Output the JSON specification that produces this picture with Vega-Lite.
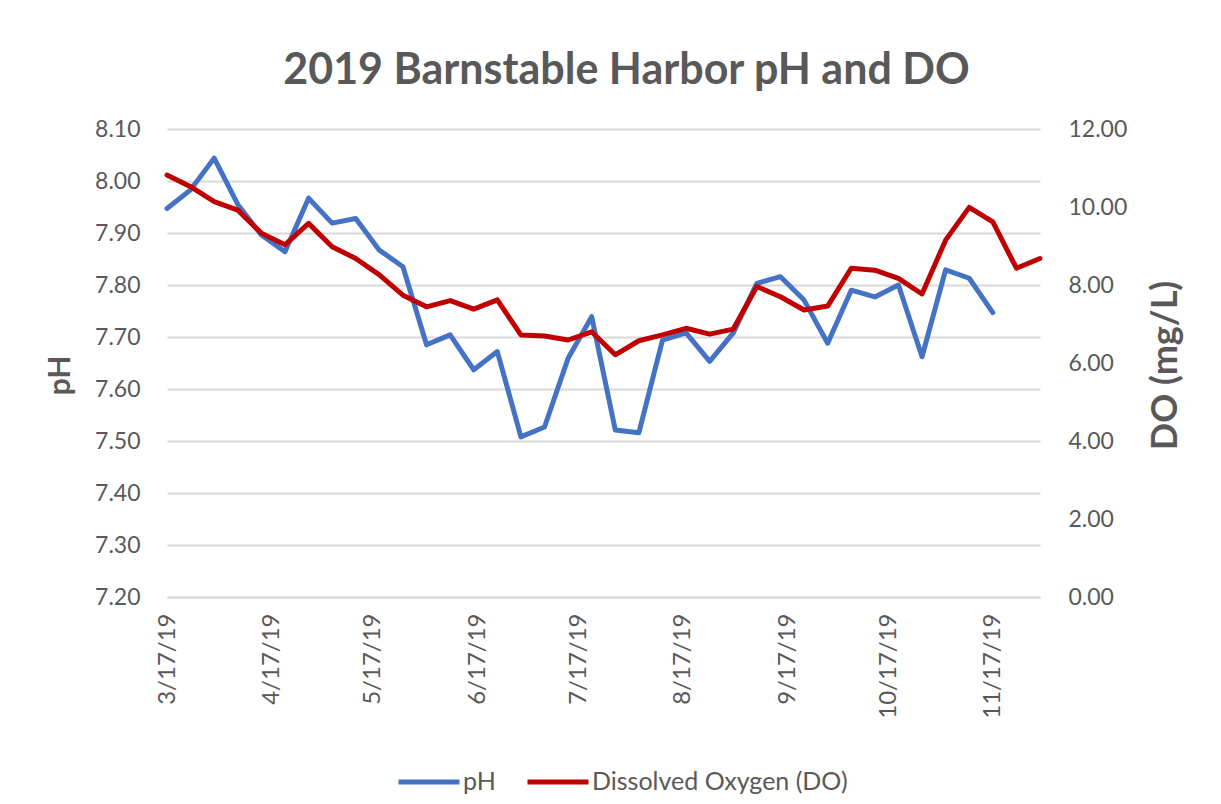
{
  "$schema": "https://vega.github.io/schema/vega-lite/v6.json",
  "width": 873,
  "height": 468,
  "autosize": {"type": "none"},
  "padding": {"left": 167, "top": 129, "right": 181, "bottom": 207},
  "background": "white",
  "config": {"font": "Lato", "view": {"stroke": null}},
  "title": {"text": "2019 Barnstable Harbor pH and DO", "fontSize": 43, "fontWeight": "bold", "color": "#595959", "font": "Lato", "anchor": "middle", "dx": 23, "offset": -9, "baseline": "alphabetic"},
  "data": {"values": [
    {"date": "2019/03/17", "pH": 7.947, "DO": 10.82},
    {"date": "2019/03/24", "pH": 7.983, "DO": 10.52},
    {"date": "2019/03/31", "pH": 8.044, "DO": 10.14},
    {"date": "2019/04/07", "pH": 7.955, "DO": 9.92},
    {"date": "2019/04/14", "pH": 7.896, "DO": 9.33},
    {"date": "2019/04/21", "pH": 7.864, "DO": 9.03},
    {"date": "2019/04/28", "pH": 7.967, "DO": 9.58},
    {"date": "2019/05/05", "pH": 7.919, "DO": 8.98},
    {"date": "2019/05/12", "pH": 7.928, "DO": 8.68},
    {"date": "2019/05/19", "pH": 7.867, "DO": 8.26},
    {"date": "2019/05/26", "pH": 7.835, "DO": 7.74},
    {"date": "2019/06/02", "pH": 7.685, "DO": 7.44},
    {"date": "2019/06/09", "pH": 7.704, "DO": 7.60},
    {"date": "2019/06/16", "pH": 7.637, "DO": 7.38},
    {"date": "2019/06/23", "pH": 7.672, "DO": 7.62},
    {"date": "2019/06/30", "pH": 7.508, "DO": 6.72},
    {"date": "2019/07/07", "pH": 7.527, "DO": 6.69},
    {"date": "2019/07/14", "pH": 7.659, "DO": 6.59},
    {"date": "2019/07/21", "pH": 7.739, "DO": 6.80},
    {"date": "2019/07/28", "pH": 7.521, "DO": 6.21},
    {"date": "2019/08/04", "pH": 7.516, "DO": 6.57},
    {"date": "2019/08/11", "pH": 7.694, "DO": 6.72},
    {"date": "2019/08/18", "pH": 7.708, "DO": 6.89},
    {"date": "2019/08/25", "pH": 7.653, "DO": 6.74},
    {"date": "2019/09/01", "pH": 7.708, "DO": 6.87},
    {"date": "2019/09/08", "pH": 7.803, "DO": 7.96},
    {"date": "2019/09/15", "pH": 7.816, "DO": 7.70},
    {"date": "2019/09/22", "pH": 7.771, "DO": 7.36},
    {"date": "2019/09/29", "pH": 7.688, "DO": 7.46},
    {"date": "2019/10/06", "pH": 7.790, "DO": 8.43},
    {"date": "2019/10/13", "pH": 7.777, "DO": 8.38},
    {"date": "2019/10/20", "pH": 7.800, "DO": 8.17},
    {"date": "2019/10/27", "pH": 7.662, "DO": 7.77},
    {"date": "2019/11/03", "pH": 7.829, "DO": 9.15},
    {"date": "2019/11/10", "pH": 7.813, "DO": 9.99},
    {"date": "2019/11/17", "pH": 7.747, "DO": 9.62},
    {"date": "2019/11/24", "pH": null, "DO": 8.43},
    {"date": "2019/12/01", "pH": null, "DO": 8.68}
  ]},
  "encoding": {
    "x": {
      "field": "date", "type": "temporal",
      "scale": {"domain": [{"year": 2019, "month": 3, "date": 17}, {"year": 2019, "month": 12, "date": 1}]},
      "axis": {
        "values": [
          {"year": 2019, "month": 3, "date": 17},
          {"year": 2019, "month": 4, "date": 17},
          {"year": 2019, "month": 5, "date": 17},
          {"year": 2019, "month": 6, "date": 17},
          {"year": 2019, "month": 7, "date": 17},
          {"year": 2019, "month": 8, "date": 17},
          {"year": 2019, "month": 9, "date": 17},
          {"year": 2019, "month": 10, "date": 17},
          {"year": 2019, "month": 11, "date": 17}
        ],
        "format": "%-m/%-d/%y",
        "labelAngle": 270,
        "labelFontSize": 24,
        "labelFont": "Lato",
        "labelColor": "#595959",
        "labelPadding": 16,
        "labelOverlap": false,
        "labelFlush": false,
        "ticks": false,
        "domain": true,
        "domainColor": "#d9d9d9",
        "domainWidth": 2,
        "grid": false,
        "title": null
      }
    }
  },
  "layer": [
    {
      "mark": {"type": "line", "strokeWidth": 5, "strokeJoin": "round", "strokeCap": "round"},
      "encoding": {
        "y": {
          "field": "pH", "type": "quantitative",
          "scale": {"domain": [7.2, 8.1], "nice": false, "zero": false},
          "axis": {
            "values": [7.2, 7.3, 7.4, 7.5, 7.6, 7.7, 7.8, 7.9, 8.0, 8.1],
            "format": ".2f",
            "grid": true, "gridColor": "#d9d9d9", "gridWidth": 2,
            "domain": false, "ticks": false,
            "labelFontSize": 23, "labelFont": "Lato", "labelColor": "#595959", "labelPadding": 27,
            "title": "pH", "titleFontSize": 30, "titleFont": "Lato", "titleFontWeight": "bold", "titleColor": "#595959",
            "titleAngle": 270, "titleX": -98, "titleY": 246, "titleAlign": "center", "titleBaseline": "alphabetic"
          }
        },
        "color": {
          "datum": "pH", "type": "nominal",
          "scale": {"domain": ["pH", "Dissolved Oxygen (DO)"], "range": ["#4472C4", "#C00000"]},
          "legend": {
            "orient": "none", "legendX": 229, "legendY": 620, "direction": "horizontal",
            "title": null, "symbolType": "stroke", "symbolSize": 3721, "symbolStrokeWidth": 5,
            "labelFontSize": 25, "labelFont": "Lato", "labelColor": "#595959", "labelLimit": 400,
            "labelOffset": 1, "columnPadding": 21, "padding": 0
          }
        }
      }
    },
    {
      "mark": {"type": "line", "strokeWidth": 5, "strokeJoin": "round", "strokeCap": "round"},
      "encoding": {
        "y": {
          "field": "DO", "type": "quantitative",
          "scale": {"domain": [0, 12], "nice": false},
          "axis": {
            "orient": "right",
            "values": [0, 2, 4, 6, 8, 10, 12],
            "format": ".2f",
            "grid": false, "domain": false, "ticks": false,
            "labelFontSize": 23, "labelFont": "Lato", "labelColor": "#595959", "labelPadding": 28,
            "title": "DO (mg/L)", "titleFontSize": 36, "titleFont": "Lato", "titleFontWeight": "bold", "titleColor": "#595959",
            "titleAngle": 270, "titleX": 136, "titleY": 236, "titleAlign": "center", "titleBaseline": "alphabetic"
          }
        },
        "color": {"datum": "Dissolved Oxygen (DO)", "type": "nominal"}
      }
    }
  ],
  "resolve": {"scale": {"y": "independent"}}
}
